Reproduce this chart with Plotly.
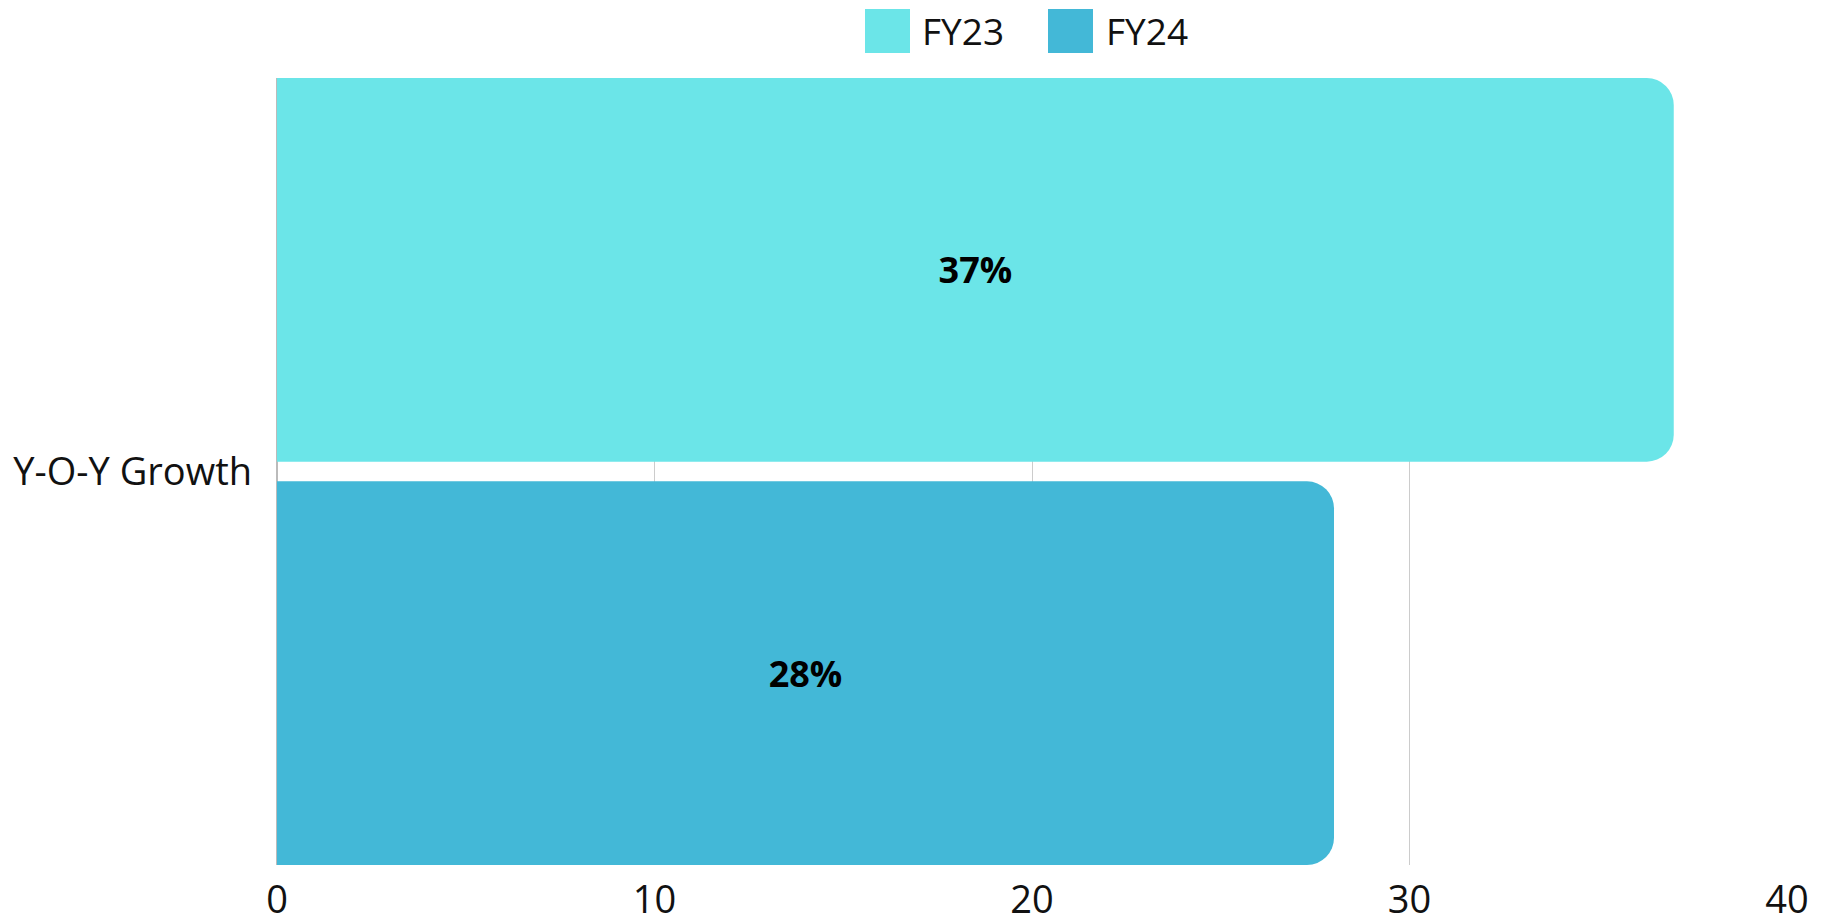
import plotly.graph_objects as go

categories = ["Y-O-Y Growth"]
series_names = ["FY23", "FY24"]
fy23_values = [37]
fy24_values = [28]
x_ticks = [0, 10, 20, 30, 40]

colors = {"FY23": "#6BE5E8", "FY24": "#43B8D7"}
FONT = "Open Sans"

# plot area in pixels
W, H = 1830, 923
L, R, T, B = 277, 43, 78, 58
pw, ph = W - L - R, H - T - B


def px2paper_x(px):
    return (px - L) / pw


def px2paper_y(py):
    return (H - B - py) / ph


fig = go.Figure()
fig.add_trace(go.Bar(
    y=categories, x=fy24_values, name="FY24", orientation="h",
    marker=dict(color=colors["FY24"], line=dict(width=0)),
    offset=-0.5, width=0.4875,
    text=[f"{v}%" for v in fy24_values], textposition="inside",
    insidetextanchor="middle",
    textfont=dict(family=FONT, size=36, color="#000000", weight="bold"),
    showlegend=False,
))
fig.add_trace(go.Bar(
    y=categories, x=fy23_values, name="FY23", orientation="h",
    marker=dict(color=colors["FY23"], line=dict(width=0)),
    offset=0.0125, width=0.4875,
    text=[f"{v}%" for v in fy23_values], textposition="inside",
    insidetextanchor="middle",
    textfont=dict(family=FONT, size=36, color="#000000", weight="bold"),
    showlegend=False,
))

# custom legend (large square swatches)
legend_items = [("FY23", 865, 910, 920), ("FY24", 1048, 1093, 1104)]
for name, x0, x1, tx in legend_items:
    fig.add_shape(type="rect", xref="paper", yref="paper",
                  x0=px2paper_x(x0), x1=px2paper_x(x1),
                  y0=px2paper_y(53), y1=px2paper_y(9),
                  fillcolor=colors[name], line=dict(width=0))
    fig.add_annotation(xref="paper", yref="paper", x=px2paper_x(tx),
                       y=px2paper_y(31), text=name, showarrow=False,
                       xanchor="left", yanchor="middle",
                       font=dict(family=FONT, size=37, color="#111111"))

fig.update_layout(
    width=W, height=H,
    margin=dict(l=L, r=R, t=T, b=B, pad=0),
    paper_bgcolor="white", plot_bgcolor="white",
    barmode="overlay",
    barcornerradius=27,
    showlegend=False,
    font=dict(family=FONT, color="#111111"),
    xaxis=dict(range=[0, 40], tickvals=x_ticks, showgrid=True,
               gridcolor="#CCCCCC", gridwidth=1, zeroline=True,
               zerolinecolor="#BBBBBB", zerolinewidth=2,
               showline=False, ticks="", ticklabelstandoff=9,
               automargin=False, layer="below traces",
               tickfont=dict(family=FONT, size=38, color="#111111")),
    yaxis=dict(range=[-0.5, 0.5], showgrid=False, zeroline=False,
               showline=False, ticks="", ticklabelstandoff=24,
               automargin=False, layer="below traces",
               tickfont=dict(family=FONT, size=38, color="#111111")),
)

fig.write_html("out.html")
